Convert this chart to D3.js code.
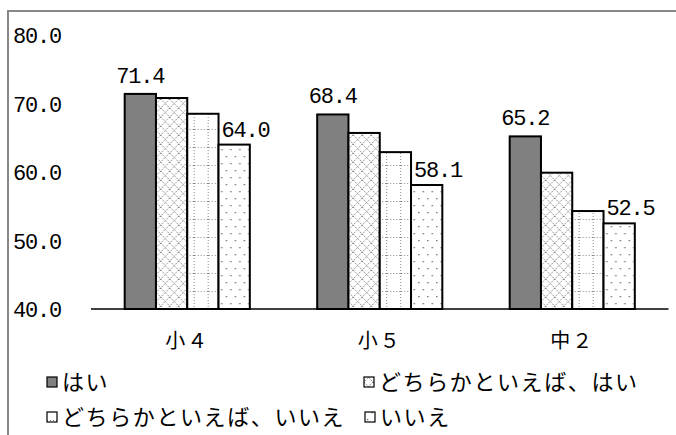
<!DOCTYPE html>
<html>
<head>
<meta charset="utf-8">
<script src="https://cdn.jsdelivr.net/npm/d3@7"></script>
<style>
  html, body { margin: 0; padding: 0; background: #fff; }
  svg { display: block; }
</style>
</head>
<body>
<svg id="chart" width="676" height="435"></svg>
<script>
// 学年別・回答別の平均値（棒グラフ）

const categories = ['小４', '小５', '中２'];
const seriesNames = ['はい', 'どちらかといえば、はい', 'どちらかといえば、いいえ', 'いいえ'];
const valuesHai = [71.4, 68.4, 65.2];
const valuesDochiraHai = [70.8, 65.7, 59.9];
const valuesDochiraIie = [68.5, 62.9, 54.3];
const valuesIie = [64.0, 58.1, 52.5];
const yTicks = [40, 50, 60, 70, 80];

const seriesValues = [valuesHai, valuesDochiraHai, valuesDochiraIie, valuesIie];
const fills = ['#808080', 'url(#pat-cross)', 'url(#pat-grid)', 'url(#pat-dots)'];

const svg = d3.select('#chart');
const W = 676, H = 435;

const defs = svg.append('defs');

// 斜め格子
const pCross = defs.append('pattern')
  .attr('id', 'pat-cross')
  .attr('patternUnits', 'userSpaceOnUse')
  .attr('width', 9).attr('height', 9);
pCross.append('rect').attr('width', 9).attr('height', 9).attr('fill', '#fff');
pCross.append('path')
  .attr('d', 'M0,0L9,9M9,0L0,9')
  .attr('stroke', '#8a8a8a')
  .attr('stroke-width', 1)
  .attr('stroke-dasharray', '1.5,1');

// 点線の格子
const pGrid = defs.append('pattern')
  .attr('id', 'pat-grid')
  .attr('patternUnits', 'userSpaceOnUse')
  .attr('width', 14).attr('height', 18)
  .attr('x', 0).attr('y', 3);
pGrid.append('rect').attr('width', 14).attr('height', 18).attr('fill', '#fff');
pGrid.append('path')
  .attr('d', 'M0,0.5H14M13.5,0V18')
  .attr('stroke', '#8a8a8a')
  .attr('stroke-width', 1)
  .attr('stroke-dasharray', '1,2');

// まばらな点
const pDots = defs.append('pattern')
  .attr('id', 'pat-dots')
  .attr('patternUnits', 'userSpaceOnUse')
  .attr('width', 9).attr('height', 14);
pDots.append('rect').attr('width', 9).attr('height', 14).attr('fill', '#fff');
[[2, 2], [6.5, 9]].forEach(([cx, cy]) => {
  pDots.append('rect')
    .attr('x', cx).attr('y', cy)
    .attr('width', 1.3).attr('height', 1.3)
    .attr('fill', '#666');
});

// 外枠（右と下は切れている）
svg.append('path')
  .attr('d', `M8,${H + 5}V11H${W + 5}`)
  .attr('fill', 'none')
  .attr('stroke', '#888')
  .attr('stroke-width', 2);

const plotLeft = 91, plotRight = 668.5;
const plotTop = 35, plotBottom = 309;

const x0 = d3.scaleBand()
  .domain(categories)
  .range([plotLeft, plotRight])
  .paddingInner(0.35)
  .paddingOuter(0.175);

const x1 = d3.scaleBand()
  .domain(d3.range(seriesNames.length))
  .range([0, x0.bandwidth()])
  .padding(0);

const y = d3.scaleLinear()
  .domain([40, 80])
  .range([plotBottom, plotTop]);

const numFont = '"Liberation Mono", "DejaVu Sans Mono", monospace';

const yAxis = svg.append('g')
  .attr('transform', 'translate(61,0)')
  .call(d3.axisLeft(y).tickValues(yTicks).tickSize(0).tickPadding(0).tickFormat(d3.format('.1f')));
yAxis.select('.domain').remove();
yAxis.selectAll('text')
  .attr('font-family', numFont)
  .attr('font-size', 22)
  .attr('letter-spacing', -1.2)
  .attr('fill', '#000')
  .attr('dy', '0.36em');

const groups = svg.selectAll('.grp')
  .data(categories)
  .enter()
  .append('g')
  .attr('class', 'grp')
  .attr('transform', d => `translate(${x0(d)},0)`);

groups.selectAll('rect')
  .data((c, ci) => seriesValues.map((vals, si) => ({ si, v: vals[ci] })))
  .enter()
  .append('rect')
  .attr('x', d => x1(d.si))
  .attr('y', d => y(d.v))
  .attr('width', x1.bandwidth())
  .attr('height', d => plotBottom - y(d.v))
  .attr('fill', d => fills[d.si])
  .attr('stroke', '#000')
  .attr('stroke-width', 2);

// データラベル（「はい」と「いいえ」のみ）
groups.append('text')
  .attr('x', x1(0) + x1.bandwidth() / 2)
  .attr('y', (c, ci) => y(valuesHai[ci]) - 11)
  .attr('text-anchor', 'middle')
  .attr('font-family', numFont)
  .attr('font-size', 22)
  .attr('letter-spacing', -1.2)
  .text((c, ci) => valuesHai[ci].toFixed(1));

groups.append('text')
  .attr('x', x1(3) + 3)
  .attr('y', (c, ci) => y(valuesIie[ci]) - 8)
  .attr('text-anchor', 'start')
  .attr('font-family', numFont)
  .attr('font-size', 22)
  .attr('letter-spacing', -1.2)
  .text((c, ci) => valuesIie[ci].toFixed(1));

// x軸
svg.append('line')
  .attr('x1', plotLeft).attr('x2', plotRight)
  .attr('y1', plotBottom).attr('y2', plotBottom)
  .attr('stroke', '#000')
  .attr('stroke-width', 1.5);

svg.selectAll('.cat')
  .data(categories)
  .enter()
  .append('text')
  .attr('class', 'cat')
  .attr('x', d => x0(d) + x0.bandwidth() / 2)
  .attr('y', 348)
  .attr('text-anchor', 'middle')
  .attr('font-family', '"Noto Sans CJK JP", sans-serif')
  .attr('font-size', 20)
  .attr('letter-spacing', 2)
  .text(d => d);

// 凡例
const legendPos = [[47, 382], [364, 382], [47, 417], [365, 417]];
const legend = svg.selectAll('.leg')
  .data(seriesNames)
  .enter()
  .append('g')
  .attr('class', 'leg')
  .attr('transform', (d, i) => `translate(${legendPos[i][0]},${legendPos[i][1]})`);

legend.append('rect')
  .attr('x', 0).attr('y', -5)
  .attr('width', 10).attr('height', 10)
  .attr('fill', (d, i) => fills[i])
  .attr('stroke', '#000')
  .attr('stroke-width', 1.2);

legend.append('text')
  .attr('x', 15)
  .attr('y', 0)
  .attr('dy', '0.36em')
  .attr('font-family', '"Noto Sans CJK JP", sans-serif')
  .attr('font-size', 22)
  .attr('letter-spacing', 1.6)
  .text(d => d);
</script>
</body>
</html>
